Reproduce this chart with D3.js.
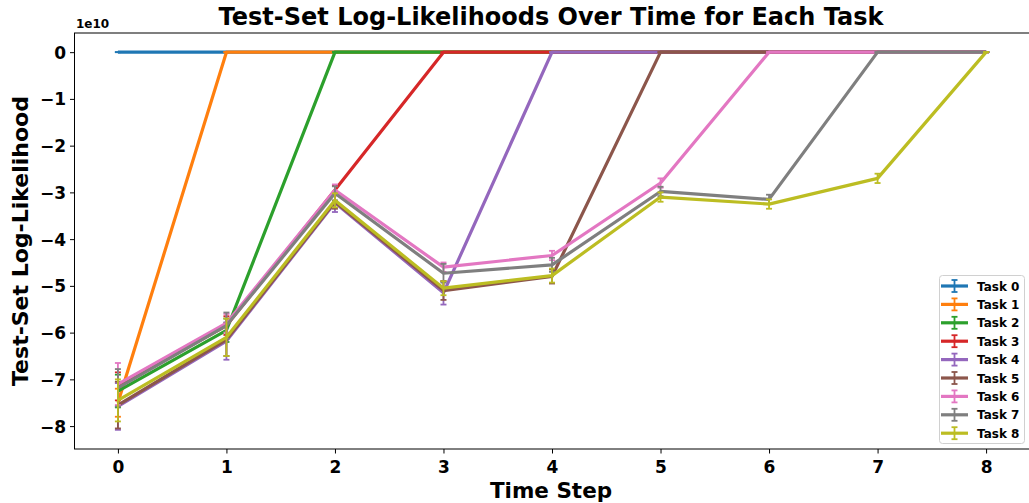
<!DOCTYPE html>
<html><head><meta charset="utf-8">
<script src="https://cdn.jsdelivr.net/npm/d3@7"></script>
<style>body{margin:0;background:#fff}svg{display:block}text{font-family:"DejaVu Sans",sans-serif;font-weight:bold}</style>
</head><body><svg id="c" width="1029" height="503"></svg>
<script>
const steps = [0,1,2,3,4,5,6,7,8];
const tasks = ["Task 0","Task 1","Task 2","Task 3","Task 4","Task 5","Task 6","Task 7","Task 8"];
const colors = ["#1f77b4","#ff7f0e","#2ca02c","#d62728","#9467bd","#8c564b","#e377c2","#7f7f7f","#bcbd22"];
const yTicks = [0,-1e10,-2e10,-3e10,-4e10,-5e10,-6e10,-7e10,-8e10];
const task0 = [0,0,0,0,0,0,0,0,0];
const task1 = [-7.5e10,0,0,0,0,0,0,0,0];
const task2 = [-7.25e10,-5.95e10,0,0,0,0,0,0,0];
const task3 = [-7.15e10,-5.85e10,-2.95e10,0,0,0,0,0,0];
const task4 = [-7.58e10,-6.18e10,-3.22e10,-5.15e10,0,0,0,0,0];
const task5 = [-7.55e10,-6.15e10,-3.2e10,-5.1e10,-4.8e10,0,0,0,0];
const task6 = [-7.1e10,-5.8e10,-2.95e10,-4.6e10,-4.35e10,-2.8e10,0,0,0];
const task7 = [-7.18e10,-5.85e10,-3.02e10,-4.73e10,-4.55e10,-2.98e10,-3.15e10,0,0];
const task8 = [-7.45e10,-6.1e10,-3.17e10,-5.05e10,-4.78e10,-3.1e10,-3.25e10,-2.7e10,0];
const err0 = [0,0,0,0,0,0,0,0,0];
const err1 = [0.3e10,0,0,0,0,0,0,0,0];
const err2 = [0.35e10,0.25e10,0,0,0,0,0,0,0];
const err3 = [0.3e10,0.2e10,0.1e10,0,0,0,0,0,0];
const err4 = [0.5e10,0.4e10,0.2e10,0.25e10,0,0,0,0,0];
const err5 = [0.5e10,0.35e10,0.15e10,0.2e10,0.15e10,0,0,0,0];
const err6 = [0.45e10,0.2e10,0.12e10,0.1e10,0.1e10,0.1e10,0,0,0];
const err7 = [0.4e10,0.28e10,0.15e10,0.2e10,0.15e10,0.1e10,0.1e10,0,0];
const err8 = [0.45e10,0.4e10,0.15e10,0.15e10,0.15e10,0.1e10,0.1e10,0.1e10,0];
const values = [task0,task1,task2,task3,task4,task5,task6,task7,task8];
const errors = [err0,err1,err2,err3,err4,err5,err6,err7,err8];

const svg = d3.select("#c");
const L=74.5, R=1029.5, T=33, B=449;
const x = d3.scaleLinear().domain([-0.4,8.4]).range([L,R]);
const y = d3.scaleLinear().domain([-8.49e10,0.41e10]).range([B,T]);

const g = svg.append("g");
values.forEach((vals,i)=>{
  const c = colors[i];
  const eg = g.append("g");
  vals.forEach((v,j)=>{
    const e = errors[i][j];
    eg.append("line").attr("x1",x(steps[j])).attr("x2",x(steps[j]))
      .attr("y1",y(v-e)).attr("y2",y(v+e)).attr("stroke",c).attr("stroke-width",1.8);
    [v-e,v+e].forEach(w=>{
      eg.append("line").attr("x1",x(steps[j])-3).attr("x2",x(steps[j])+3)
        .attr("y1",y(w)).attr("y2",y(w)).attr("stroke",c).attr("stroke-width",1.8);
    });
  });
  const line = d3.line().x((d,j)=>x(steps[j])).y(d=>y(d));
  g.append("path").attr("d",line(vals)).attr("fill","none").attr("stroke",c)
    .attr("stroke-width",3.2).attr("stroke-linejoin","round");
});

const xa = svg.append("g").attr("transform",`translate(0,${B})`)
  .call(d3.axisBottom(x).tickValues(steps).tickSize(4.5).tickPadding(4).tickFormat(d3.format("d")));
const ya = svg.append("g").attr("transform",`translate(${L},0)`)
  .call(d3.axisLeft(y).tickValues(yTicks).tickSize(4.5).tickPadding(4)
    .tickFormat(d=>{const v=Math.round(d/1e10);return v<0?"\u2212"+(-v):String(v);}));
[xa,ya].forEach(a=>{a.select(".domain").remove();a.selectAll("line").attr("stroke","#000").attr("stroke-width",1);
  a.selectAll("text").attr("font-size",17).attr("fill","#000").style("font-weight","bold");});
xa.selectAll("text").attr("dy","0.9em");
ya.selectAll("text").attr("dy","0.35em");
svg.append("rect").attr("x",L).attr("y",T).attr("width",R-L).attr("height",B-T)
  .attr("fill","none").attr("stroke","#000").attr("stroke-width",1);

svg.append("text").attr("x",76).attr("y",28).attr("font-size",12).text("1e10");
svg.append("text").attr("x",(L+R)/2-1).attr("y",25).attr("text-anchor","middle").attr("font-size",24)
  .text("Test-Set Log-Likelihoods Over Time for Each Task");
svg.append("text").attr("x",(L+R)/2-1).attr("y",498).attr("text-anchor","middle").attr("font-size",21.5)
  .text("Time Step");
svg.append("text").attr("transform",`translate(28,${(T+B)/2}) rotate(-90)`).attr("text-anchor","middle").attr("font-size",22)
  .text("Test-Set Log-Likelihood");

const lg = svg.append("g");
lg.append("rect").attr("x",939.5).attr("y",275.5).attr("width",85).attr("height",168).attr("rx",3)
  .attr("fill","rgba(255,255,255,0.8)").attr("stroke","#d0d0d0");
tasks.forEach((t,i)=>{
  const yy = 286 + i*18.4;
  lg.append("line").attr("x1",941).attr("x2",968).attr("y1",yy).attr("y2",yy).attr("stroke",colors[i]).attr("stroke-width",3.2);
  lg.append("line").attr("x1",954.5).attr("x2",954.5).attr("y1",yy-6).attr("y2",yy+6).attr("stroke",colors[i]).attr("stroke-width",1.8);
  [yy-6,yy+6].forEach(w=>lg.append("line").attr("x1",951.5).attr("x2",957.5).attr("y1",w).attr("y2",w).attr("stroke",colors[i]).attr("stroke-width",1.8));
  lg.append("text").attr("x",977).attr("y",yy+4.5).attr("font-size",12).text(t);
});
</script></body></html>
